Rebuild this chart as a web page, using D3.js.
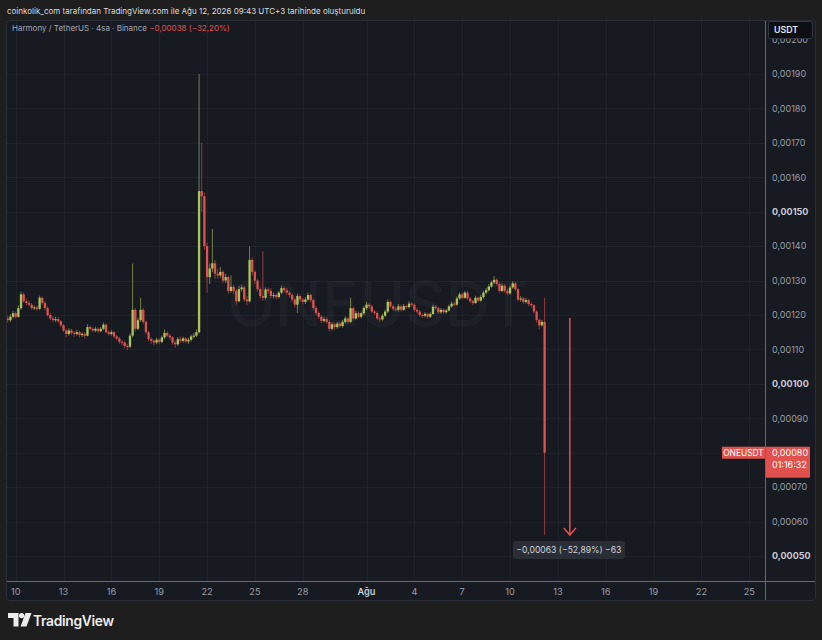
<!DOCTYPE html>
<html>
<head>
<meta charset="utf-8">
<script src="https://cdn.jsdelivr.net/npm/d3@7"></script>
<style>
  html, body { margin: 0; padding: 0; background: #1e1e1e; }
  svg { display: block; font-family: Inter, "Noto Sans", sans-serif; }
</style>
</head>
<body>
<div id="chart"></div>
<script>
// ONE/USDT, 4h bars, prices in 0.00001 USDT
const firstOpen = 119.5;
const closes = [
  119, 118.5, 119.5, 120.5, 119.5, 122, 126, 124, 123.5, 123,
  122, 122.2, 121.8, 125, 123.5, 122, 120, 119, 118.5, 118.8,
  118.2, 117, 115.5, 114.5, 115.5, 114.8, 114.5, 115, 114.2, 114.5,
  114, 116.5, 116, 115.5, 116, 115.3, 116, 117.2, 115, 114.5,
  115, 113.8, 113.2, 112.2, 112, 111, 110.8, 114, 121.5, 116,
  118.5, 121.5, 118, 115, 113, 112.5, 112, 112.8, 112.2, 113.5,
  114.8, 114, 113.5, 112, 111.5, 113, 112.5, 113.2, 112.3, 112.8,
  113.8, 114, 115, 156, 154.5, 140, 131, 133.5, 135, 132,
  131.5, 132.5, 130, 131, 127, 128.2, 127, 124, 127.5, 128,
  124.5, 124, 136, 132.5, 130, 127.5, 125.5, 125, 127.4, 127,
  125.5, 125.8, 125.2, 126.5, 127.8, 127.2, 126.5, 125.8, 124.5, 123,
  125.5, 124.5, 123.8, 124.5, 125.8, 124.3, 122, 120.6, 119.5, 118.3,
  118.8, 118, 116, 117.3, 116.5, 117.5, 116.8, 118, 119, 118,
  122, 119, 120.5, 119.5, 120.5, 122, 123, 122.5, 121, 120.6,
  119, 118.7, 119.8, 121, 123.8, 122.5, 121.8, 121.5, 122.5, 121.5,
  122.6, 122.3, 123.3, 123, 121.5, 121, 120, 119.8, 120.3, 119.5,
  120.3, 122.4, 122, 120.8, 121.5, 120.8, 121.3, 122.5, 123.3, 123,
  124.8, 126, 125, 126.5, 124.8, 124, 123.5, 125, 124.2, 125.2,
  126.5, 127.2, 128.3, 129.5, 130.2, 129, 127, 128.5, 127, 126.3,
  128, 129.2, 127.5, 124.5, 124.8, 123.8, 124.3, 123.2, 122.8, 121,
  118.5, 117, 118, 80
];
const highs = [
  120, 119.8, 120.2, 121.2, 121, 122.8, 126.8, 126.5, 124.8, 124.2,
  123.5, 122.8, 122.8, 125.6, 125.4, 124, 122.5, 120.5, 119.6, 119.5,
  119.3, 118.6, 117.4, 116, 116.2, 116, 115.4, 115.6, 115.4, 115,
  115, 117.3, 117, 116.5, 116.6, 116.4, 116.5, 117.8, 117.5, 115.5,
  115.6, 115.3, 114.2, 113.6, 112.8, 112.4, 111.6, 114.6, 135, 122,
  119.2, 125, 122, 118.4, 115.4, 113.5, 113, 113.4, 113.2, 114,
  115.8, 115.2, 114.5, 113.8, 112.6, 113.6, 113.8, 113.7, 113.6, 113.4,
  114.3, 114.8, 115.8, 190, 170, 155.5, 141, 135, 145, 136,
  133.5, 134, 133, 132, 131.5, 131.5, 128.8, 127.5, 128.4, 128.8,
  128.5, 125.5, 140, 136.8, 133, 130.5, 128, 138.5, 128, 128,
  127.8, 126.5, 126.3, 127, 128.5, 128.3, 127.8, 127, 126.3, 125,
  126.2, 126, 125, 125.2, 126.5, 126.2, 124.8, 122.6, 121, 120,
  119.5, 119.3, 118.5, 117.9, 117.8, 118, 118, 118.6, 119.6, 119.4,
  125, 122.5, 121.2, 121, 121, 122.6, 123.8, 123.5, 123, 121.5,
  121, 119.5, 120.4, 121.6, 124.5, 124.2, 123, 122.4, 123.2, 123,
  123.2, 123, 124, 123.8, 123.4, 122, 121.4, 120.5, 120.8, 120.7,
  120.8, 123, 122.9, 122.4, 122, 121.9, 121.8, 123, 123.9, 123.8,
  125.4, 126.6, 126.5, 127, 127, 125.3, 124.5, 125.6, 125.4, 125.8,
  127, 127.8, 129, 130, 131.3, 130.7, 129.5, 129.2, 129, 127.5,
  128.6, 129.8, 129.6, 127.9, 125.5, 125.2, 125, 124.7, 123.7, 123.2,
  121.4, 118.9, 118.6, 125
];
const lows = [
  118.3, 117.8, 118, 119, 119, 119.2, 121.5, 123.5, 122.8, 122.5,
  121.5, 121.5, 121.2, 121.5, 123, 121.5, 119.5, 118.5, 118, 118,
  117.6, 116.5, 115, 113.5, 114, 114.2, 113.6, 114, 113.5, 113.6,
  113.2, 113.8, 115.5, 115, 115, 114.8, 115, 115.6, 114.6, 114,
  114, 113.2, 112.6, 111.6, 111.2, 110.3, 109.8, 110.4, 113.5, 115.2,
  115.6, 118, 117.4, 114.4, 112.4, 111.6, 111.2, 111.5, 111.5, 111.8,
  113, 113.5, 112.8, 111.4, 110.5, 111, 112, 112, 111.8, 111.6,
  112.3, 113.2, 113.6, 114.6, 150, 139, 126.5, 129, 132.5, 130.5,
  130.5, 130.8, 129.2, 129.3, 126.2, 126.5, 126, 123, 123.6, 126.8,
  123.8, 122.8, 123.6, 131.5, 129, 126.8, 124.8, 124.2, 124.5, 126.2,
  124.8, 124.8, 124.5, 124.8, 126, 126.5, 125.8, 125, 123.8, 122.2,
  120.6, 123.8, 123, 123.2, 124, 123.6, 121.4, 120, 118.8, 117.6,
  117.8, 117.4, 115.2, 115.5, 115.6, 116, 116.2, 116.3, 117.5, 117.5,
  117.6, 118.4, 118.6, 119, 119, 120, 121.5, 121.8, 120.5, 120,
  118.5, 118, 118.3, 119.4, 120.6, 122, 121.2, 121, 121, 121,
  121.2, 121.8, 121.9, 122.4, 121, 120.4, 119.4, 119.2, 119.3, 118.9,
  119.1, 120, 121.5, 120.3, 120.4, 120.3, 120.4, 121, 122.1, 122.5,
  122.7, 124.4, 124.5, 124.7, 124.3, 123.5, 122.9, 123.2, 123.7, 123.9,
  124.8, 126, 126.8, 127.9, 129, 128.5, 126.5, 126.6, 126.4, 125.7,
  125.9, 127.6, 127, 124, 123.8, 123.2, 123.3, 122.6, 122.2, 120.4,
  117.8, 115.8, 116.6, 56.1
];

const firstBarUtc = Date.UTC(2026, 6, 9, 8);   // 11:00 UTC+3
const barMs = 4 * 3600 * 1000;

const priceTicks = [50, 60, 70, 80, 90, 100, 110, 120, 130, 140, 150, 160, 170, 180, 190, 200];
const boldPriceTicks = [50, 100, 150];
const tickDays = ["2026-07-10", "2026-07-13", "2026-07-16", "2026-07-19", "2026-07-22", "2026-07-25",
  "2026-07-28", "2026-08-01", "2026-08-04", "2026-08-07", "2026-08-10", "2026-08-13", "2026-08-16",
  "2026-08-19", "2026-08-22", "2026-08-25"];
const tickLabels = ["10", "13", "16", "19", "22", "25", "28", "Ağu", "4", "7", "10", "13", "16", "19", "22", "25"];

const symbolName = "ONEUSDT";
const lastPrice = 80;
const countdown = "01:16:32";
const measureFrom = 119.1;
const measureTo = 56.1;
const measureTime = "2026-08-13T18:00:00Z";
const measureText = "−0,00063 (−52,89%) −63";

// layout
const width = 822, height = 640;
const pane = { left: 7, right: 765, top: 21, bottom: 581 };
const colUp = "#abc75c", colDown = "#df534f";

const bars = closes.map((c, i) => {
  const o = i === 0 ? firstOpen : closes[i - 1];
  return { t: new Date(firstBarUtc + i * barMs), o: o, c: c, h: highs[i], l: lows[i] };
});

const fmt = v => d3.format(".5f")(v / 1e5).replace(".", ",");

const svg = d3.select("#chart").append("svg")
  .attr("width", width).attr("height", height);

svg.append("rect").attr("width", width).attr("height", height).attr("fill", "#1e1e1e");

// header line
svg.append("text")
  .attr("x", 7).attr("y", 13.5)
  .attr("fill", "#dcdcdc").attr("font-size", 8)
  .text("coinkolik_com tarafından TradingView.com ile Ağu 12, 2026 09:43 UTC+3 tarihinde oluşturuldu");

// panel
svg.append("rect")
  .attr("x", 6.5).attr("y", 20.5).attr("width", 809).attr("height", 580)
  .attr("rx", 3).attr("fill", "#171a21").attr("stroke", "#2b2e36");

// scales
const y = d3.scaleLinear().domain([50, 190]).range([556, 74]);
const x = d3.scaleUtc()
  .domain([new Date(Date.UTC(2026, 6, 10, 0)), new Date(Date.UTC(2026, 7, 12, 4))])
  .range([15.7, 544.6]);

// grid
const grid = svg.append("g");
grid.selectAll("line.h").data(priceTicks.filter(p => p < 200)).enter().append("line")
  .attr("x1", pane.left).attr("x2", pane.right)
  .attr("y1", d => Math.round(y(d)) + 0.5).attr("y2", d => Math.round(y(d)) + 0.5)
  .attr("stroke", "#ffffff").attr("stroke-opacity", 0.04);
grid.selectAll("line.v").data(tickDays).enter().append("line")
  .attr("x1", d => Math.round(x(new Date(d + "T00:00:00Z"))) + 0.5)
  .attr("x2", d => Math.round(x(new Date(d + "T00:00:00Z"))) + 0.5)
  .attr("y1", pane.top).attr("y2", pane.bottom)
  .attr("stroke", "#ffffff").attr("stroke-opacity", 0.03);

// clip for the plot area
svg.append("clipPath").attr("id", "plotClip")
  .append("rect").attr("x", pane.left).attr("y", pane.top)
  .attr("width", pane.right - pane.left).attr("height", pane.bottom - pane.top);

const plot = svg.append("g").attr("clip-path", "url(#plotClip)");

// watermark
plot.append("text")
  .attr("x", 378).attr("y", 326).attr("text-anchor", "middle")
  .attr("font-size", 62).attr("font-weight", 500)
  .attr("fill", "#ffffff").attr("fill-opacity", 0.028)
  .text(symbolName);

// candles
const bw = 2.3;
plot.selectAll("line.wick").data(bars).enter().append("line")
  .attr("x1", d => x(d.t)).attr("x2", d => x(d.t))
  .attr("y1", d => y(d.h)).attr("y2", d => y(d.l))
  .attr("stroke", d => d.c >= d.o ? colUp : colDown)
  .attr("stroke-opacity", 0.6).attr("stroke-width", 1);

plot.selectAll("rect.body").data(bars).enter().append("rect")
  .attr("x", d => x(d.t) - bw / 2)
  .attr("y", d => y(Math.max(d.o, d.c)))
  .attr("width", bw)
  .attr("height", d => Math.max(1, Math.abs(y(d.o) - y(d.c))))
  .attr("fill", d => d.c >= d.o ? colUp : colDown);

// measure arrow
const mx = x(new Date(measureTime));
plot.append("line")
  .attr("x1", mx).attr("x2", mx)
  .attr("y1", y(measureFrom)).attr("y2", y(measureTo))
  .attr("stroke", "#e0514d").attr("stroke-width", 1.5);
plot.append("path")
  .attr("d", `M${mx - 6},${y(measureTo) - 7}L${mx},${y(measureTo)}L${mx + 6},${y(measureTo) - 7}`)
  .attr("fill", "none").attr("stroke", "#e0514d").attr("stroke-width", 1.5);
plot.append("rect")
  .attr("x", mx - 57).attr("y", y(measureTo) + 6).attr("width", 112).attr("height", 18)
  .attr("rx", 3).attr("fill", "#2b2e36");
plot.append("text")
  .attr("x", mx - 1).attr("y", y(measureTo) + 18)
  .attr("text-anchor", "middle")
  .attr("fill", "#d1d4dc").attr("font-size", 8.6)
  .text(measureText);

// legend
const legend = svg.append("text")
  .attr("x", 12).attr("y", 31).attr("font-size", 8);
legend.append("tspan").attr("fill", "#a3a6af").text("Harmony / TetherUS · 4sa · Binance  ");
legend.append("tspan").attr("fill", "#e0514d").text("−0,00038 (−32,20%)");

// axes frame
svg.append("line")
  .attr("x1", pane.right + 0.5).attr("x2", pane.right + 0.5)
  .attr("y1", pane.top).attr("y2", 600)
  .attr("stroke", "#666a73");
svg.append("line")
  .attr("x1", pane.left).attr("x2", 815)
  .attr("y1", pane.bottom + 0.5).attr("y2", pane.bottom + 0.5)
  .attr("stroke", "#666a73");

// price axis labels
svg.append("g").selectAll("text").data(priceTicks).enter().append("text")
  .attr("x", 772).attr("y", d => y(d) + 3.3)
  .attr("font-size", 9)
  .attr("font-weight", d => boldPriceTicks.includes(d) ? 700 : 400)
  .attr("fill", d => boldPriceTicks.includes(d) ? "#c9ccd4" : "#9a9da6")
  .text(d => fmt(d));

// USDT box
svg.append("rect")
  .attr("x", 768.5).attr("y", 21.5).attr("width", 44).attr("height", 17)
  .attr("rx", 2).attr("fill", "#0e0f13").attr("stroke", "#33363e");
svg.append("text")
  .attr("x", 774).attr("y", 33).attr("font-size", 8.8).attr("font-weight", 600)
  .attr("fill", "#e6e8ee").text("USDT");

// time axis labels
svg.append("g").selectAll("text").data(tickDays).enter().append("text")
  .attr("x", (d, i) => x(new Date(d + "T00:00:00Z")))
  .attr("y", 594.5).attr("text-anchor", "middle")
  .attr("font-size", 9.2)
  .attr("font-weight", (d, i) => tickLabels[i] === "Ağu" ? 600 : 400)
  .attr("fill", (d, i) => tickLabels[i] === "Ağu" ? "#c9ccd4" : "#9a9da6")
  .text((d, i) => tickLabels[i]);

// last price labels
const ly = y(lastPrice);
svg.append("rect")
  .attr("x", 722).attr("y", ly - 6).attr("width", 43).attr("height", 12)
  .attr("fill", "#e0514d");
svg.append("text")
  .attr("x", 743.5).attr("y", ly + 3.2).attr("text-anchor", "middle")
  .attr("font-size", 8.4).attr("fill", "#ffffff").text(symbolName);
svg.append("rect")
  .attr("x", 766).attr("y", ly - 6).attr("width", 44).attr("height", 31)
  .attr("fill", "#e0514d");
svg.append("text")
  .attr("x", 772).attr("y", ly + 3.3)
  .attr("font-size", 9).attr("fill", "#ffffff").text(fmt(lastPrice));
svg.append("text")
  .attr("x", 772).attr("y", ly + 15.5)
  .attr("font-size", 9).attr("fill", "#ffffff").text(countdown);

// TradingView logo
const logo = svg.append("g").attr("fill", "#ececec");
logo.append("path").attr("d", "M8,613 H18.5 V626.5 H13.5 V618 H8 Z");
logo.append("circle").attr("cx", 21.6).attr("cy", 615.6).attr("r", 2.6);
logo.append("path").attr("d", "M25.5,613 H31.5 L26.5,626.5 H20.5 Z");
svg.append("text")
  .attr("x", 33).attr("y", 626).attr("font-size", 13.8).attr("font-weight", 600)
  .attr("fill", "#ececec").attr("letter-spacing", -0.3).text("TradingView");
</script>
</body>
</html>
